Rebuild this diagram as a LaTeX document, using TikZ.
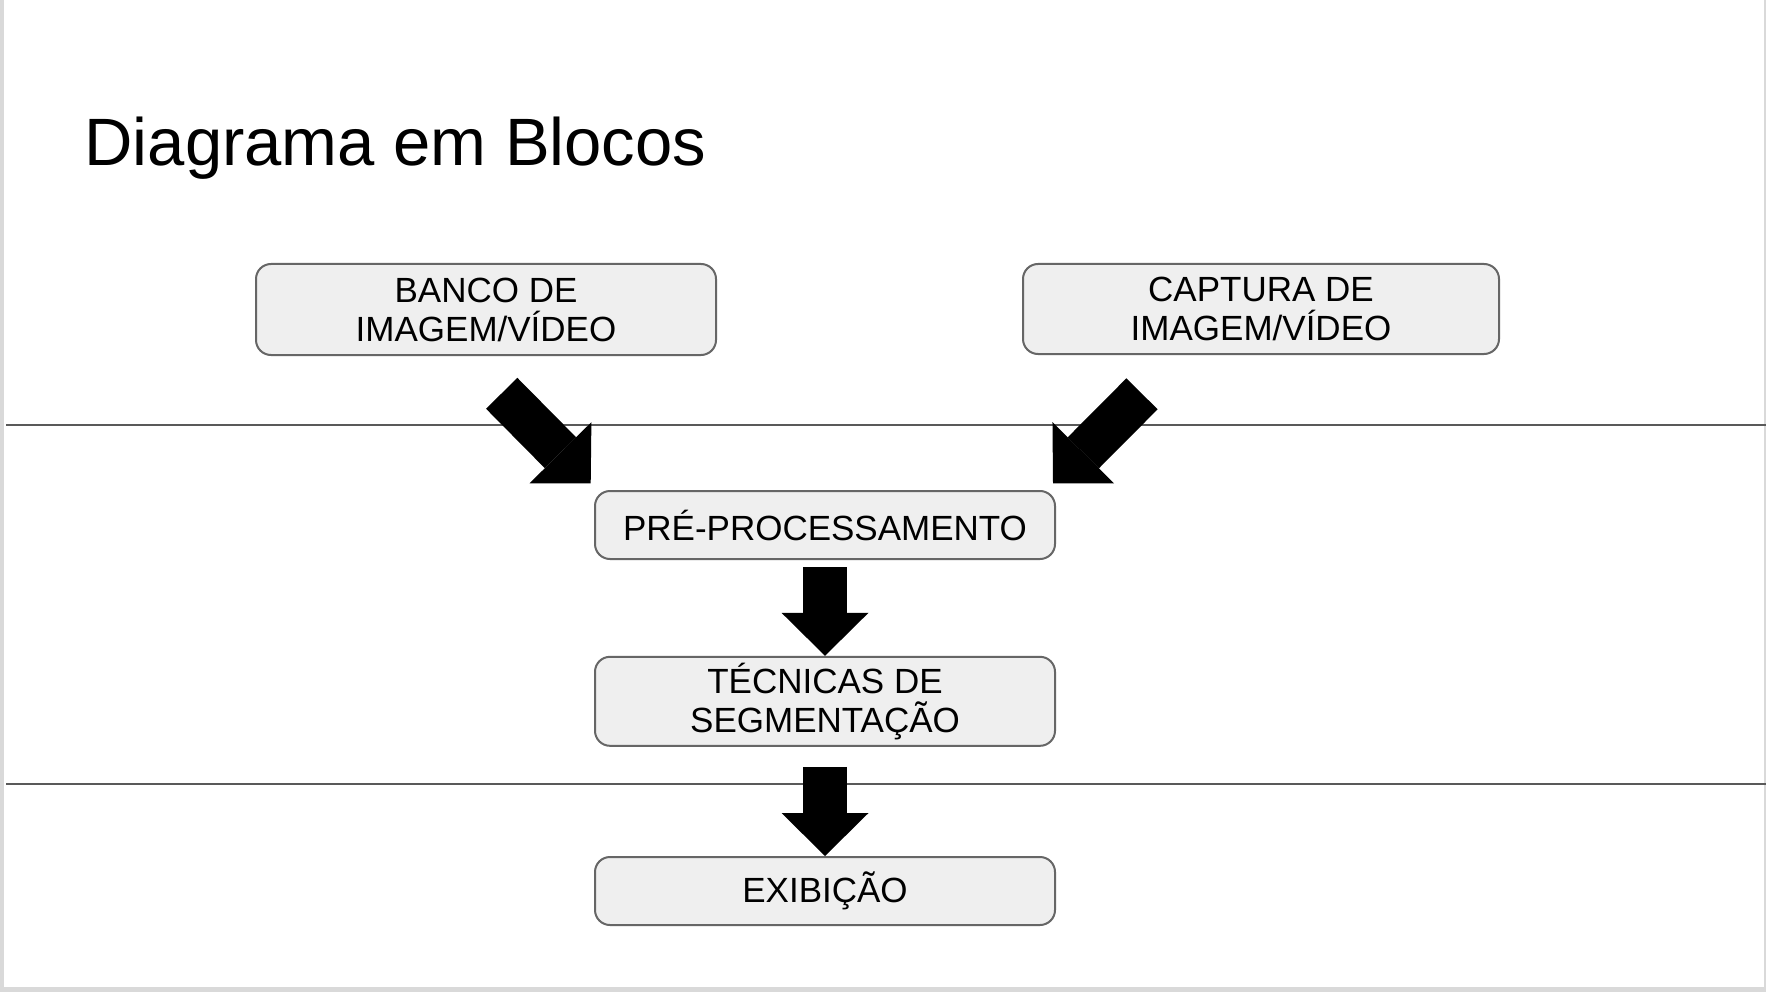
\documentclass[tikz,border=0pt]{standalone}
\usepackage{fontspec}
\setmainfont{Liberation Sans}
\usetikzlibrary{arrows.meta}
\definecolor{caixa}{HTML}{EFEFEF}
\definecolor{borda}{HTML}{666666}
\definecolor{linha}{HTML}{595959}
\definecolor{moldura}{HTML}{D9D9D9}
\tikzset{
  bloco/.style={draw=borda, line width=2pt, fill=caixa, rounded corners=15pt,
    minimum width=460pt, minimum height=68pt, inner sep=0pt, align=center,
    font=\fontsize{35}{39}\selectfont},
  divisoria/.style={draw=linha, line width=2.2pt},
  setagrossa/.style={line width=44pt, -{Triangle[length=43pt,width=87pt,line width=0pt]}}
}
\begin{document}
\begin{tikzpicture}[x=1pt,y=-1pt]
      \def\W{1766};
      \def\H{992};
      \useasboundingbox (0,0) rectangle (\W,\H);
      \fill[moldura] (0,0) rectangle (\W,\H);
      \fill[white] (3.5,0) rectangle (1764,987);
      \draw[divisoria] (6,425) -- (\W,425);
      \draw[divisoria] (6,784) -- (\W,784);
      \node[anchor=base west, font=\fontsize{67}{80}\selectfont] (titulo) at (81,166) {Diagrama em Blocos};
      \node[bloco, minimum height=91pt] (banco) at (486,309.5) {BANCO DE\\IMAGEM/VÍDEO};
      \node[bloco, minimum width=476pt, minimum height=90pt] (captura) at (1261,309) {CAPTURA DE\\IMAGEM/VÍDEO};
      \node[bloco] (pre) at (825,525) {PRÉ-PROCESSAMENTO};
      \node[bloco, minimum height=89pt] (tec) at (825,701.3) {TÉCNICAS DE\\SEGMENTAÇÃO};
      \node[bloco] (exib) at (825,891) {EXIBIÇÃO};
      \coordinate (bancoseta) at (501.7,393.3);
      \coordinate (capturaseta) at (1142,393.8);
      \coordinate (preesq) at ([shift={(-3.3,-6.7)}]pre.north west);
      \coordinate (predir) at ([shift={(-3,-6.7)}]pre.north east);
      \draw[setagrossa] (bancoseta) -- (preesq);
      \draw[setagrossa] (capturaseta) -- (predir);
      \draw[setagrossa, shorten <=7pt] (pre) -- (tec);
      \draw[setagrossa, shorten <=20pt] (tec) -- (exib);
\end{tikzpicture}
\end{document}
